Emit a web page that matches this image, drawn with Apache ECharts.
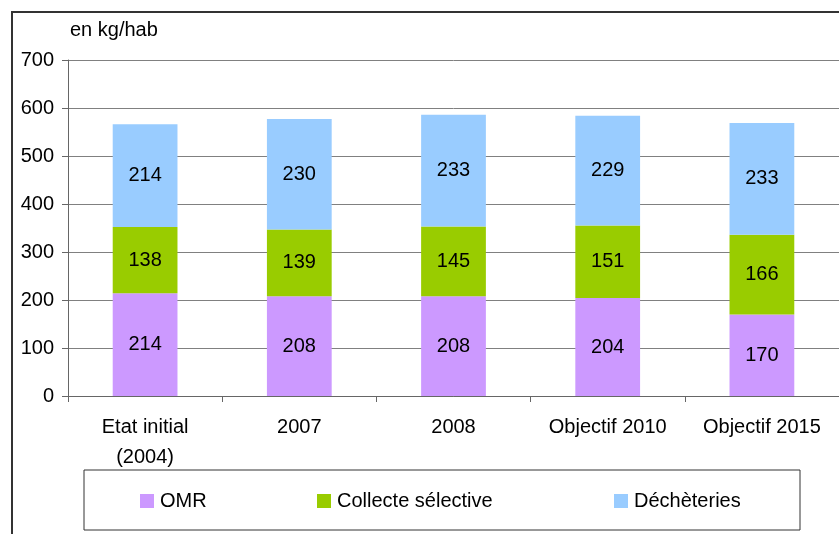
<!DOCTYPE html>
<html>
<head>
<meta charset="utf-8">
<script src="https://cdn.jsdelivr.net/npm/echarts@6/dist/echarts.min.js"></script>
<style>
  html, body { margin: 0; padding: 0; background: #fff; }
  #chart { width: 839px; height: 534px; }
</style>
</head>
<body>
<div id="chart"></div>
<script>
const categories = ['Etat initial\n(2004)', '2007', '2008', 'Objectif 2010', 'Objectif 2015']
const omr = [214, 208, 208, 204, 170]
const collecte = [138, 139, 145, 151, 166]
const decheteries = [214, 230, 233, 229, 233]
const yTicks = [0, 100, 200, 300, 400, 500, 600, 700]

const font = 'Liberation Sans, Arial, sans-serif'
const colors = ['#cc99ff', '#99cc00', '#99ccff']

const chart = echarts.init(document.getElementById('chart'))

function bar(name, data, color) {
  return {
    name: name,
    type: 'bar',
    stack: 'total',
    barWidth: '42%',
    data: data,
    itemStyle: { color: color },
    label: {
      show: true,
      position: 'inside',
      color: '#000',
      fontFamily: font,
      fontSize: 20
    },
    animation: false
  }
}

// one legend per item so each can sit where the original put it
function legendItem(name, left) {
  return {
    data: [name],
    left: left,
    top: 491,
    padding: 0,
    icon: 'rect',
    itemWidth: 14,
    itemHeight: 14,
    itemGap: 0,
    textStyle: { fontFamily: font, fontSize: 20, color: '#000', padding: [0, 0, 0, 1] },
    selectedMode: false
  }
}

chart.setOption({
  animation: false,
  grid: { left: 68, top: 60, width: 780, height: 336, containLabel: false },
  graphic: [
    { type: 'rect', shape: { x: 12, y: 12, width: 850, height: 540 },
      style: { fill: 'none', stroke: '#333', lineWidth: 2 } },
    { type: 'rect', shape: { x: 84, y: 470, width: 716, height: 60 },
      style: { fill: 'none', stroke: '#333', lineWidth: 1 } },
    { type: 'text', left: 70, top: 20,
      style: { text: 'en kg/hab', fontFamily: font, fontSize: 20, fill: '#000' } }
  ],
  legend: [
    legendItem('OMR', 140),
    legendItem('Collecte sélective', 317),
    legendItem('Déchèteries', 614)
  ],
  xAxis: {
    type: 'category',
    data: categories,
    axisLine: { lineStyle: { color: '#666', width: 1 } },
    axisTick: { show: true, length: 6, lineStyle: { color: '#666' } },
    axisLabel: { fontFamily: font, fontSize: 20, color: '#000', margin: 16, lineHeight: 30 }
  },
  yAxis: {
    type: 'value',
    min: yTicks[0],
    max: yTicks[yTicks.length - 1],
    interval: 100,
    axisLine: { show: true, lineStyle: { color: '#666', width: 1 } },
    axisTick: { show: true, length: 6, lineStyle: { color: '#666' } },
    axisLabel: { fontFamily: font, fontSize: 20, color: '#000', margin: 14 },
    splitLine: { lineStyle: { color: '#808080', width: 1 } }
  },
  series: [
    bar('OMR', omr, colors[0]),
    bar('Collecte sélective', collecte, colors[1]),
    bar('Déchèteries', decheteries, colors[2])
  ]
})
</script>
</body>
</html>
